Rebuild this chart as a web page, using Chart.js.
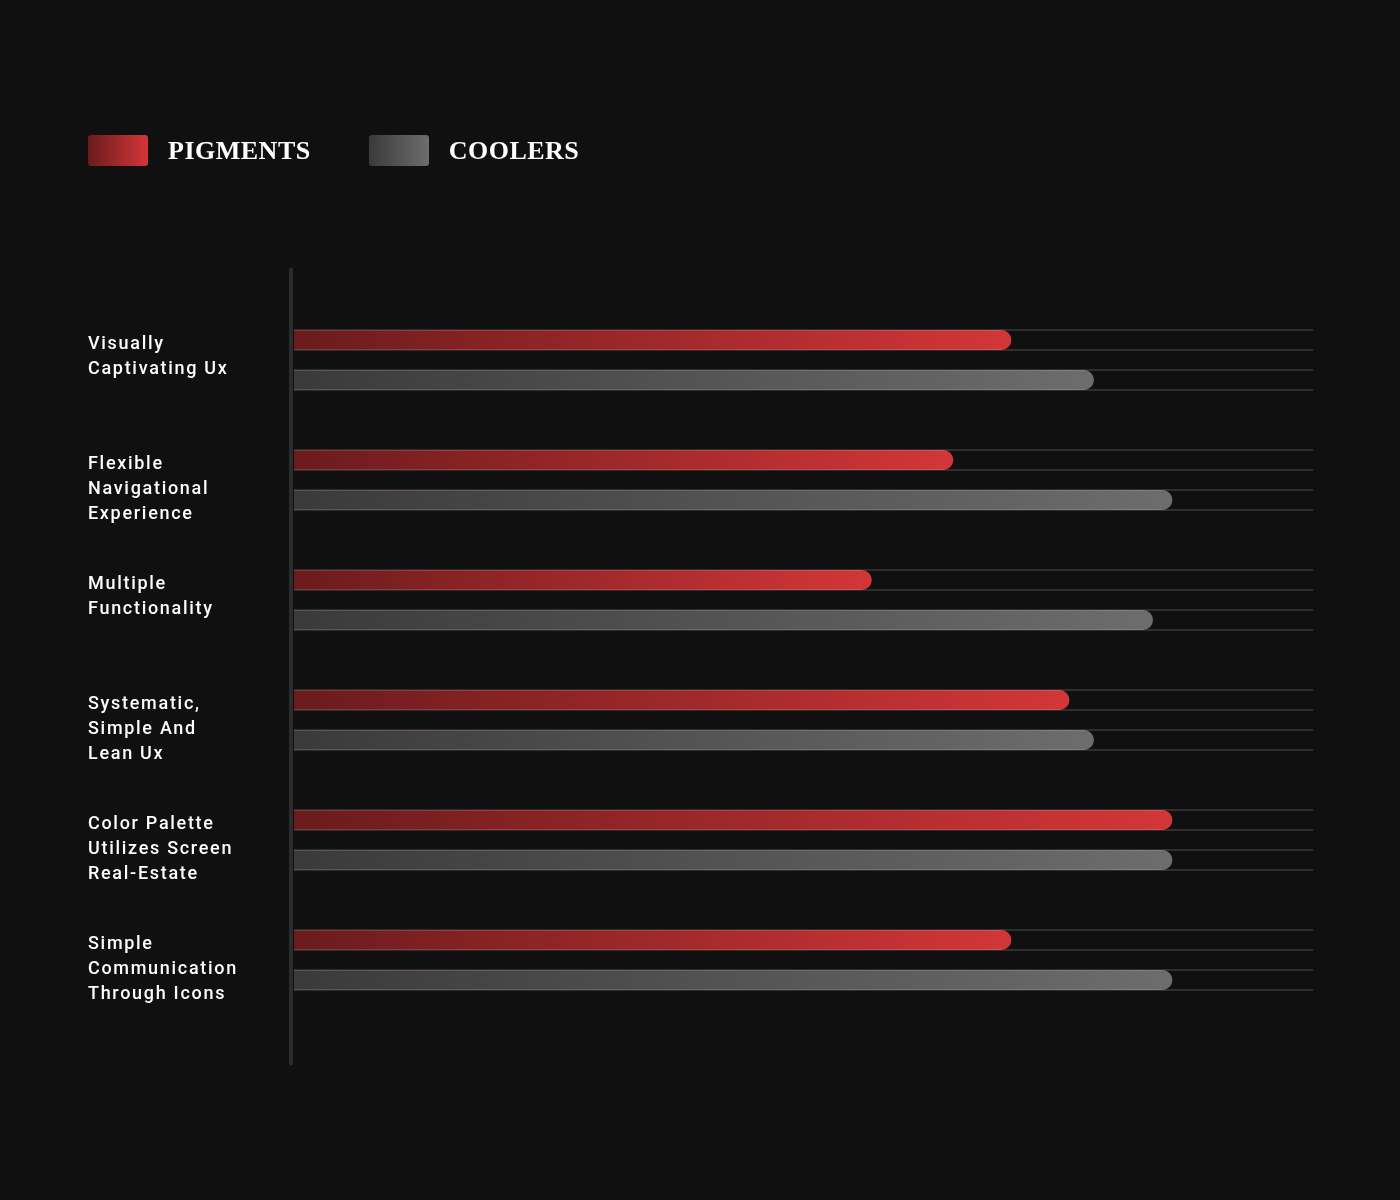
<!DOCTYPE html>
<html>
<head>
<meta charset="utf-8">
<script src="https://cdn.jsdelivr.net/npm/chart.js@4.4.1/dist/chart.umd.min.js"></script>
<style>
  html, body { margin: 0; padding: 0; background: #101010; }
  #wrap { position: relative; width: 1400px; height: 1200px; }
  #legend { position: absolute; left: 88px; top: 135px; height: 31px; display: flex; align-items: center; }
  .item { display: flex; align-items: center; margin-right: 58px; }
  .sw { width: 60px; height: 31px; border-radius: 3px; margin-right: 20px; }
  .lt { font-family: "Liberation Serif", "DejaVu Serif", serif; font-weight: bold; font-size: 26px; letter-spacing: 0.5px; color: #ffffff; line-height: 31px; }
</style>
</head>
<body>
<div id="wrap">
  <canvas id="c" width="1400" height="1200"></canvas>
  <div id="legend"></div>
</div>
<script>
// ---- data ----
const categories = [
  ["Visually", "Captivating Ux"],
  ["Flexible", "Navigational", "Experience"],
  ["Multiple", "Functionality"],
  ["Systematic,", "Simple And", "Lean Ux"],
  ["Color Palette", "Utilizes Screen", "Real-Estate"],
  ["Simple", "Communication", "Through Icons"]
];
const seriesNames = ["PIGMENTS", "COOLERS"];
const pigments = [70.4, 64.7, 56.7, 76.1, 86.2, 70.4];
const coolers = [78.5, 86.2, 84.3, 78.5, 86.2, 86.2];
const axisMin = 0;
const axisMax = 100;

// ---- styles ----
const gradStops = [
  ["#6a1b1d", "#d33638"],
  ["#3a3a3a", "#6d6d6d"]
];

function barGradient(idx) {
  return function (ctx) {
    const chart = ctx.chart;
    if (!chart.chartArea || ctx.raw === undefined) return gradStops[idx][1];
    const x0 = chart.scales.x.getPixelForValue(axisMin);
    const x1 = chart.scales.x.getPixelForValue(ctx.raw);
    const g = chart.ctx.createLinearGradient(x0, 0, Math.max(x1, x0 + 1), 0);
    g.addColorStop(0, gradStops[idx][0]);
    g.addColorStop(1, gradStops[idx][1]);
    return g;
  };
}

// HTML legend from series names
const legend = document.getElementById('legend');
seriesNames.forEach((name, i) => {
  const it = document.createElement('div');
  it.className = 'item';
  const sw = document.createElement('div');
  sw.className = 'sw';
  sw.style.background = 'linear-gradient(to right, ' + gradStops[i][0] + ', ' + gradStops[i][1] + ')';
  const t = document.createElement('span');
  t.className = 'lt';
  t.textContent = name;
  it.appendChild(sw); it.appendChild(t);
  legend.appendChild(it);
});

const spacingPlugin = {
  id: 'spacing',
  beforeUpdate(chart) { chart.ctx.letterSpacing = '1.7px'; },
  beforeDraw(chart) { chart.ctx.letterSpacing = '1.7px'; }
};

const bgPlugin = {
  id: 'bg',
  beforeDraw(chart) {
    const c = chart.ctx;
    c.save();
    c.fillStyle = '#101010';
    c.fillRect(0, 0, chart.width, chart.height);
    c.restore();
  }
};

const trackPlugin = {
  id: 'tracks',
  afterDatasetsDraw(chart) {
    const c = chart.ctx;
    const a = chart.chartArea;
    c.save();
    c.strokeStyle = 'rgba(255,255,255,0.13)';
    c.lineWidth = 2;
    chart.data.datasets.forEach((ds, di) => {
      const meta = chart.getDatasetMeta(di);
      meta.data.forEach(el => {
        const h = el.height;
        [el.y - h / 2, el.y + h / 2].forEach(y => {
          c.beginPath();
          c.moveTo(a.left, y);
          c.lineTo(a.right, y);
          c.stroke();
        });
      });
    });
    // vertical axis line
    const ys = chart.scales.y;
    const step = ys.getPixelForValue(1) - ys.getPixelForValue(0);
    c.strokeStyle = '#2c2c2c';
    c.lineWidth = 4;
    c.lineCap = 'round';
    c.beginPath();
    c.moveTo(a.left - 3, a.top - step * 0.27 + 2);
    c.lineTo(a.left - 3, a.bottom + step * 0.38 - 2);
    c.stroke();
    c.restore();
  }
};

new Chart(document.getElementById('c'), {
  type: 'bar',
  data: {
    labels: categories,
    datasets: [
      { label: seriesNames[0], data: pigments, backgroundColor: barGradient(0) },
      { label: seriesNames[1], data: coolers, backgroundColor: barGradient(1) }
    ]
  },
  options: {
    indexAxis: 'y',
    responsive: false,
    animation: false,
    devicePixelRatio: 1,
    layout: { padding: { left: 88, right: 87, top: 300, bottom: 180 } },
    datasets: {
      bar: {
        categoryPercentage: 2 / 3,
        barPercentage: 0.5,
        borderRadius: 10,
        borderSkipped: 'start',
        borderWidth: 0
      }
    },
    plugins: {
      legend: { display: false },
      tooltip: { enabled: false }
    },
    scales: {
      x: {
        display: false,
        min: axisMin,
        max: axisMax
      },
      y: {
        offset: true,
        grid: { display: false, drawTicks: false },
        border: { display: false },
        afterFit(scale) { scale.width = 206; },
        ticks: {
          crossAlign: 'far',
          color: '#ffffff',
          labelOffset: 9,
          padding: 0,
          font: { family: 'Roboto, "Noto Sans", sans-serif', size: 18, weight: '500', lineHeight: 25 / 18 },
          callback(value) {
            const lab = this.getLabelForValue(value);
            const lines = Array.isArray(lab) ? lab.slice() : [lab];
            while (lines.length < 3) lines.push('');
            return lines;
          }
        }
      }
    }
  },
  plugins: [bgPlugin, spacingPlugin, trackPlugin]
});
</script>
</body>
</html>
